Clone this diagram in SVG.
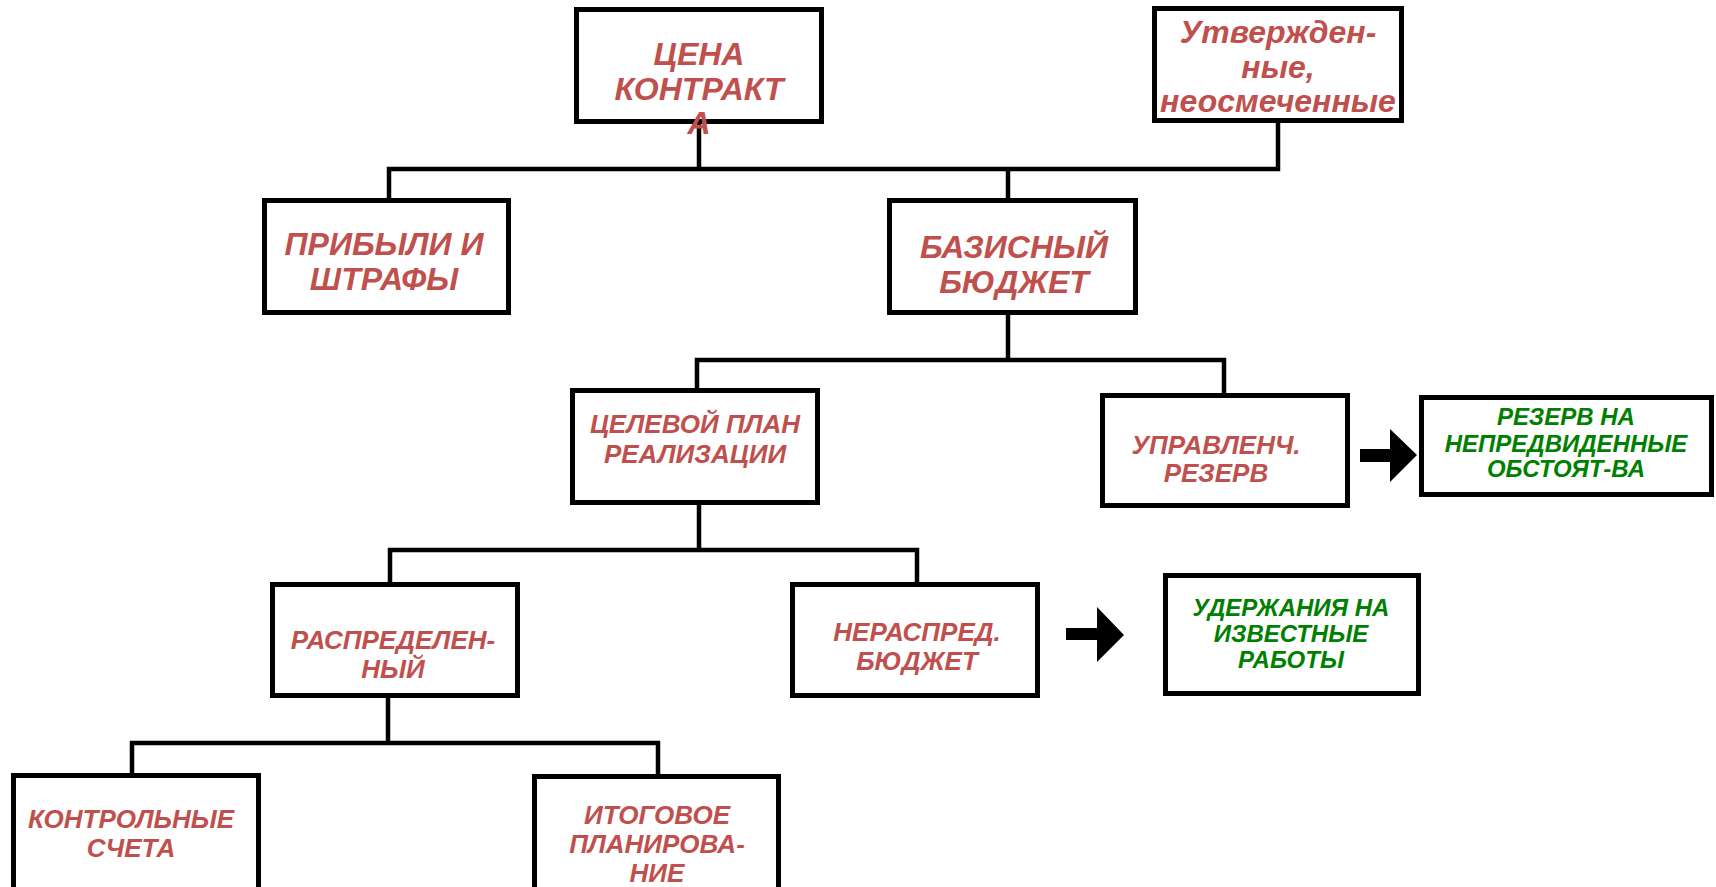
<svg xmlns="http://www.w3.org/2000/svg" width="1716" height="887" viewBox="0 0 1716 887">
<style>
.box{fill:#fff;stroke:#000;stroke-width:5}
.ln{fill:none;stroke:#000;stroke-width:4.5}
.ar{fill:#000;stroke:none}
text{font-family:"Liberation Sans",Arial,sans-serif;font-weight:bold;font-style:italic;text-anchor:middle}
.r{fill:#C0504D}
.g{fill:#008000}
.big{font-size:32px}
.mid{font-size:26px}
.sm{font-size:24px}
</style>
<rect width="1716" height="887" fill="#fff"/>
<g id="connectors">
<path class="ln" d="M699 124 V169 M389 198 V169 H1278 V123 M1008 169 V198"/>
<path class="ln" d="M1008 315 V360 M697 388 V360 H1224 V393"/>
<path class="ln" d="M699 505 V550 M390 582 V550 H917 V582"/>
<path class="ln" d="M388 698 V743 M132 773 V743 H658 V774"/>
<path class="ar" d="M1360 449 H1390 V429 L1417 455 L1390 482 V462 H1360 Z"/>
<path class="ar" d="M1066 628 H1097 V607 L1124 635 L1097 662 V640 H1066 Z"/>
</g>
<g id="node-cena">
<rect class="box" x="576.5" y="9.5" width="245" height="112"/>
<text class="r big" x="699" y="65">ЦЕНА</text>
<text class="r big" x="699" y="100">КОНТРАКТ</text>
<text class="r big" x="699" y="134">А</text>
</g>
<g id="node-utv">
<rect class="box" x="1154.5" y="8.5" width="247" height="112"/>
<text class="r big" x="1278" y="43">Утвержден-</text>
<text class="r big" x="1278" y="78">ные,</text>
<text class="r big" x="1278" y="112">неосмеченные</text>
</g>
<g id="node-pribyli">
<rect class="box" x="264.5" y="200.5" width="244" height="112"/>
<text class="r big" x="384" y="255">ПРИБЫЛИ И</text>
<text class="r big" x="384" y="290">ШТРАФЫ</text>
</g>
<g id="node-bazis">
<rect class="box" x="889.5" y="200.5" width="246" height="112"/>
<text class="r big" x="1014" y="258">БАЗИСНЫЙ</text>
<text class="r big" x="1014" y="293">БЮДЖЕТ</text>
</g>
<g id="node-celevoy">
<rect class="box" x="572.5" y="390.5" width="245" height="112"/>
<text class="r mid" x="695" y="433">ЦЕЛЕВОЙ ПЛАН</text>
<text class="r mid" x="695" y="463">РЕАЛИЗАЦИИ</text>
</g>
<g id="node-upr">
<rect class="box" x="1102.5" y="395.5" width="245" height="110"/>
<text class="r mid" x="1216" y="454">УПРАВЛЕНЧ.</text>
<text class="r mid" x="1216" y="482">РЕЗЕРВ</text>
</g>
<g id="node-rezerv">
<rect class="box" x="1421.5" y="397.5" width="290" height="97"/>
<text class="g sm" x="1566" y="425">РЕЗЕРВ НА</text>
<text class="g sm" x="1566" y="452">НЕПРЕДВИДЕННЫЕ</text>
<text class="g sm" x="1566" y="477">ОБСТОЯТ-ВА</text>
</g>
<g id="node-raspr">
<rect class="box" x="272.5" y="584.5" width="245" height="111"/>
<text class="r mid" x="393" y="649">РАСПРЕДЕЛЕН-</text>
<text class="r mid" x="393" y="678">НЫЙ</text>
</g>
<g id="node-neraspr">
<rect class="box" x="792.5" y="584.5" width="245" height="111"/>
<text class="r mid" x="917" y="641">НЕРАСПРЕД.</text>
<text class="r mid" x="917" y="670">БЮДЖЕТ</text>
</g>
<g id="node-uderzh">
<rect class="box" x="1165.5" y="575.5" width="253" height="118"/>
<text class="g sm" x="1291" y="616">УДЕРЖАНИЯ НА</text>
<text class="g sm" x="1291" y="642">ИЗВЕСТНЫЕ</text>
<text class="g sm" x="1291" y="668">РАБОТЫ</text>
</g>
<g id="node-kontr">
<rect class="box" x="13.5" y="775.5" width="245" height="150"/>
<text class="r mid" x="131" y="828">КОНТРОЛЬНЫЕ</text>
<text class="r mid" x="131" y="857">СЧЕТА</text>
</g>
<g id="node-itog">
<rect class="box" x="534.5" y="776.5" width="244" height="150"/>
<text class="r mid" x="657" y="824">ИТОГОВОЕ</text>
<text class="r mid" x="657" y="853">ПЛАНИРОВА-</text>
<text class="r mid" x="657" y="882">НИЕ</text>
</g>
</svg>
